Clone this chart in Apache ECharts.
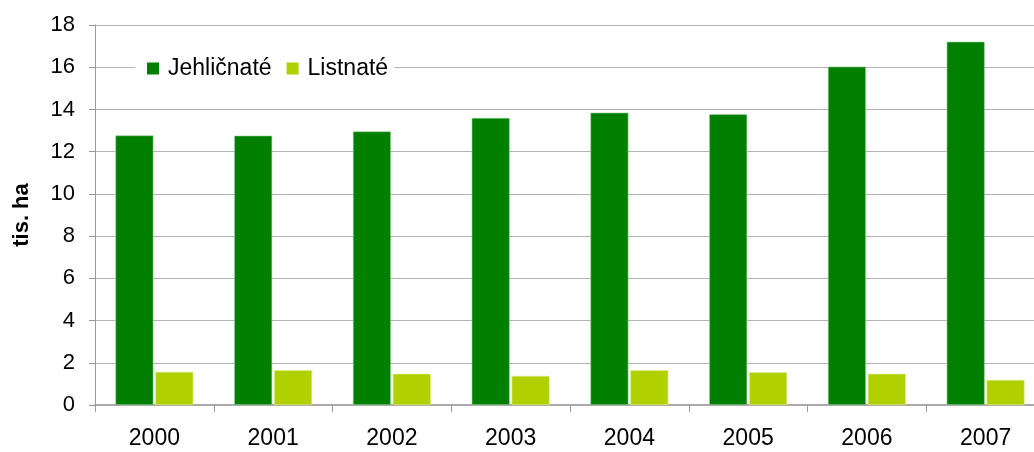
<!DOCTYPE html>
<html>
<head>
<meta charset="utf-8">
<script src="https://cdn.jsdelivr.net/npm/echarts@6/dist/echarts.min.js"></script>
<style>
html,body{margin:0;padding:0;background:#fff;}
#chart{width:1034px;height:452px;}
</style>
</head>
<body>
<div id="chart"></div>
<script>
// roky
var years = ['2000', '2001', '2002', '2003', '2004', '2005', '2006', '2007'];
// tis. ha
var jehlicnate = [12.77, 12.76, 12.96, 13.6, 13.85, 13.77, 16.03, 17.21];
var listnate = [1.57, 1.65, 1.48, 1.38, 1.65, 1.55, 1.48, 1.19];

var font = 'Liberation Sans, Arial, sans-serif';

var option = {
	backgroundColor: '#fff',
	animation: false,
	textStyle: { fontFamily: font },
	// posledni kategorie presahuje okraj obrazku
	grid: { left: 95, right: -11, top: 25, bottom: 47, outerBoundsMode: 'none', containLabel: false },
	legend: {
		left: 135,
		top: 55,
		itemWidth: 12,
		itemHeight: 12,
		itemGap: 15,
		padding: [2, 6, 2, 12],
		backgroundColor: '#fff',
		icon: 'rect',
		itemStyle: { borderWidth: 0 },
		textStyle: { fontFamily: font, fontSize: 23, color: '#000', padding: [0, 0, 0, 4] },
		data: ['Jehličnaté', 'Listnaté']
	},
	xAxis: {
		type: 'category',
		data: years,
		axisLine: { lineStyle: { color: '#aaa', width: 2 } },
		axisTick: { show: true, length: 7, lineStyle: { color: '#999' } },
		axisLabel: { color: '#000', fontSize: 23, margin: 22, fontFamily: font }
	},
	yAxis: {
		type: 'value',
		min: 0,
		max: 18,
		interval: 2,
		name: 'tis. ha',
		nameLocation: 'middle',
		nameRotate: 90,
		nameGap: 62,
		nameTextStyle: { fontSize: 22, fontWeight: 'bold', color: '#000', fontFamily: font },
		axisLine: { show: true, lineStyle: { color: '#999' } },
		axisTick: { show: true, length: 6, lineStyle: { color: '#999' } },
		axisLabel: { color: '#000', fontSize: 22, margin: 20, fontFamily: font },
		splitLine: { lineStyle: { color: '#b4b4b4', width: 1 } }
	},
	series: [{
		name: 'Jehličnaté',
		type: 'bar',
		data: jehlicnate,
		barWidth: '32%',
		barGap: '5%',
		itemStyle: { color: '#007f00', borderColor: '#9fd39f', borderWidth: 0.6 }
	}, {
		name: 'Listnaté',
		type: 'bar',
		data: listnate,
		barWidth: '32%',
		itemStyle: { color: '#b0d000', borderColor: '#e0ef99', borderWidth: 0.6 }
	}]
};

var myChart = echarts.init(document.getElementById('chart'));
myChart.setOption(option);
</script>
</body>
</html>
